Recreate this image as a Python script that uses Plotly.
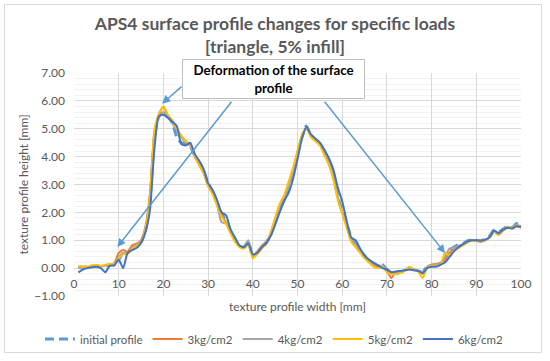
import plotly.graph_objects as go

x_mm = list(range(1, 101))

initial_profile = [0.02, 0.03, 0.04, 0.05, 0.08, 0.05, 0.08, 0.12, 0.12, 0.30,
                   0.55, 0.55, 0.72, 0.80, 0.95, 1.35, 2.40, 4.70, 5.45, 5.55,
                   5.45, 5.20, 4.70, 4.50, 4.45, 4.35, 4.05, 3.80, 3.50, 3.05,
                   2.75, 2.35, 1.95, 1.70, 1.35, 1.05, 0.80, 0.75, 0.95, 0.40,
                   0.55, 0.72, 0.90, 1.20, 1.70, 2.15, 2.45, 2.95, 3.45, 4.10,
                   4.70, 5.10, 4.75, 4.60, 4.45, 4.20, 3.85, 3.35, 2.60, 2.05,
                   1.60, 1.10, 0.85, 0.65, 0.45, 0.30, 0.15, 0.08, 0.12, -0.05,
                   -0.15, -0.18, -0.15, -0.10, 0.00, -0.05, -0.10, -0.15, 0.08, 0.10,
                   0.10, 0.15, 0.35, 0.65, 0.75, 0.85, 0.88, 0.98, 1.02, 1.00,
                   0.98, 1.05, 1.15, 1.38, 1.30, 1.40, 1.50, 1.45, 1.60, 1.52]

load_3kg = [0.05, 0.05, 0.04, 0.06, 0.10, 0.06, 0.10, 0.12, 0.18, 0.55,
            0.65, 0.58, 0.82, 0.88, 1.00, 1.50, 2.70, 4.90, 5.50, 5.80,
            5.45, 5.25, 5.00, 4.75, 4.55, 4.40, 4.00, 3.70, 3.40, 2.95,
            2.70, 2.30, 1.90, 1.65, 1.30, 1.00, 0.80, 0.72, 0.90, 0.42,
            0.60, 0.80, 0.95, 1.25, 1.75, 2.25, 2.55, 3.00, 3.50, 4.15,
            4.75, 5.05, 4.75, 4.60, 4.50, 4.10, 3.80, 3.30, 2.55, 2.00,
            1.50, 1.05, 0.80, 0.60, 0.40, 0.25, 0.10, 0.05, 0.05, -0.10,
            -0.35, -0.15, -0.12, -0.08, 0.02, -0.05, -0.10, -0.20, 0.05, 0.12,
            0.15, 0.20, 0.30, 0.55, 0.70, 0.78, 0.85, 0.95, 1.00, 0.98,
            0.95, 1.00, 1.10, 1.30, 1.20, 1.35, 1.45, 1.42, 1.50, 1.45]

load_4kg = [0.00, 0.03, 0.05, 0.05, 0.07, 0.06, 0.10, 0.10, 0.15, 0.40,
            0.55, 0.52, 0.75, 0.82, 0.95, 1.40, 2.50, 4.80, 5.45, 5.60,
            5.40, 5.20, 4.95, 4.70, 4.50, 4.40, 4.05, 3.75, 3.45, 3.00,
            2.70, 2.30, 1.65, 1.60, 1.30, 1.00, 0.78, 0.75, 1.00, 0.45,
            0.58, 0.75, 0.92, 1.22, 1.72, 2.20, 2.50, 2.95, 3.45, 4.05,
            4.70, 5.05, 4.75, 4.60, 4.45, 4.15, 3.80, 3.30, 2.55, 2.00,
            1.55, 1.05, 0.85, 0.62, 0.42, 0.30, 0.15, 0.10, 0.08, -0.05,
            -0.15, -0.15, -0.12, -0.08, 0.00, -0.05, -0.08, -0.15, 0.05, 0.10,
            0.12, 0.18, 0.40, 0.70, 0.72, 0.80, 0.85, 0.95, 1.00, 1.00,
            0.98, 1.02, 1.12, 1.32, 1.25, 1.38, 1.48, 1.45, 1.55, 1.50]

load_5kg = [0.08, 0.05, 0.05, 0.10, 0.12, 0.08, 0.12, 0.15, 0.15, 0.35,
            0.50, 0.50, 0.70, 0.78, 0.92, 1.40, 2.60, 4.95, 5.55, 5.80,
            5.50, 5.30, 5.00, 4.75, 4.55, 4.45, 4.05, 3.70, 3.40, 2.95,
            2.65, 2.25, 1.85, 1.60, 1.25, 0.95, 0.75, 0.70, 0.85, 0.35,
            0.50, 0.70, 0.88, 1.25, 1.80, 2.30, 2.60, 3.10, 3.60, 4.20,
            4.80, 5.00, 4.70, 4.55, 4.40, 4.05, 3.70, 3.20, 2.45, 1.95,
            1.45, 0.95, 0.75, 0.55, 0.35, 0.20, 0.05, 0.00, 0.05, -0.15,
            -0.20, -0.22, -0.18, -0.10, 0.05, -0.05, -0.12, -0.35, 0.00, 0.08,
            0.08, 0.12, 0.55, 0.45, 0.62, 0.72, 0.82, 0.92, 0.98, 0.98,
            0.96, 1.02, 1.10, 1.30, 1.22, 1.35, 1.48, 1.44, 1.52, 1.48]

load_6kg = [-0.15, -0.05, 0.00, 0.03, 0.05, 0.00, -0.15, 0.08, 0.10, 0.30,
            0.00, 0.55, 0.65, 0.72, 0.90, 1.30, 2.10, 4.30, 5.45, 5.50,
            5.40, 5.25, 5.10, 4.45, 4.40, 4.50, 4.10, 3.85, 3.55, 3.05,
            2.80, 2.45, 2.00, 1.90, 1.40, 1.10, 0.82, 0.75, 0.88, 0.50,
            0.55, 0.75, 0.90, 1.15, 1.55, 2.00, 2.40, 2.70, 3.20, 3.90,
            4.65, 5.05, 4.80, 4.65, 4.50, 4.25, 3.95, 3.55, 2.90, 2.40,
            1.70, 1.10, 1.00, 0.70, 0.45, 0.30, 0.20, 0.10, 0.00, -0.05,
            -0.15, -0.12, -0.10, -0.08, -0.05, -0.08, -0.10, -0.18, 0.00, 0.05,
            0.05, 0.12, 0.20, 0.40, 0.60, 0.75, 0.85, 0.95, 1.00, 1.00,
            0.98, 1.02, 1.12, 1.35, 1.25, 1.38, 1.45, 1.42, 1.50, 1.48]

series_names = ["initial profile", "3kg/cm2", "4kg/cm2", "5kg/cm2", "6kg/cm2"]
series_values = [initial_profile, load_3kg, load_4kg, load_5kg, load_6kg]
series_colors = ["#5B9BD5", "#ED7D31", "#A5A5A5", "#FFC000", "#4472C4"]

y_ticks = [-1, 0, 1, 2, 3, 4, 5, 6, 7]
x_ticks = [0, 10, 20, 30, 40, 50, 60, 70, 80, 90, 100]

# arrows: (start_x, start_y, end_x, end_y) in data units
arrows = [(24.4, 6.56, 19.7, 5.9),
          (35.5, 6.02, 9.7, 0.76),
          (55.8, 6.02, 83.0, 0.54)]

FONT = "Lato"
GRAY = "#595959"

fig = go.Figure()
for name, vals, col in zip(series_names, series_values, series_colors):
    if name == "initial profile":
        line = dict(color=col, width=3, dash="9px,5px", shape="spline", smoothing=0.6)
    else:
        line = dict(color=col, width=2, shape="spline", smoothing=0.6)
    fig.add_trace(go.Scatter(x=x_mm, y=vals, mode="lines", name=name, line=line))

W, H = 550, 361
L, R, T, B = 74, 29, 73, 65
pw, ph = W - L - R, H - T - B

def px_to_paper_x(px):
    return (px - L) / pw

def px_to_paper_y(py):
    return (H - B - py) / ph

annotations = []
for sx, sy, ex, ey in arrows:
    annotations.append(dict(x=ex, y=ey, ax=sx, ay=sy, xref="x", yref="y",
                            axref="x", ayref="y", text="", showarrow=True,
                            arrowhead=2, arrowsize=1.1, arrowwidth=1.5,
                            arrowcolor="#5B9BD5", standoff=0, startstandoff=0))

annotations.append(dict(x=44.6, y=6.79, xref="x", yref="y",
                        text="<b>Deformation of the surface<br>profile</b>",
                        showarrow=False, font=dict(family=FONT, size=13.3, color="#000000"),
                        bgcolor="#FFFFFF", bordercolor="#BFBFBF", borderwidth=1,
                        width=179, height=36, borderpad=1, align="center"))

annotations.append(dict(x=0.5, y=px_to_paper_y(306), xref="paper", yref="paper",
                        text="texture profile width [mm]", showarrow=False,
                        font=dict(family=FONT, size=12, color=GRAY),
                        xanchor="center", yanchor="middle"))

fig.update_layout(
    width=W, height=H,
    margin=dict(l=L, r=R, t=T, b=B, autoexpand=False),
    paper_bgcolor="#FFFFFF", plot_bgcolor="#FFFFFF",
    font=dict(family=FONT, size=12, color=GRAY),
    title=dict(text="<b>APS4 surface profile changes for specific loads<br>[triangle, 5% infill]</b>",
               x=0.5, xref="container", xanchor="center",
               y=1 - 30 / H, yref="container", yanchor="top",
               font=dict(family=FONT, size=17.5, color=GRAY)),
    xaxis=dict(range=[0, 100], tickvals=x_ticks, showgrid=True, gridcolor="#D9D9D9",
               gridwidth=1, zeroline=False, showline=False, ticks="",
               anchor="free", position=1 / 8, ticklabelstandoff=7,
               tickfont=dict(family=FONT, size=12, color=GRAY)),
    yaxis=dict(range=[-1, 7], tickvals=y_ticks, tickformat=".2f", showgrid=True,
               gridcolor="#D9D9D9", gridwidth=1, zeroline=False, showline=False,
               ticks="", ticklabelstandoff=8,
               minor=dict(dtick=0.2, showgrid=True, gridcolor="#F2F2F2", gridwidth=1),
               title=dict(text="texture profile height [mm]", standoff=3,
                          font=dict(family=FONT, size=12, color=GRAY)),
               tickfont=dict(family=FONT, size=12, color=GRAY)),
    legend=dict(orientation="h", x=px_to_paper_x(40), xref="paper", xanchor="left",
                y=px_to_paper_y(339), yref="paper", yanchor="middle",
                font=dict(family=FONT, size=11.5, color=GRAY), itemwidth=30,
                bgcolor="rgba(0,0,0,0)"),
    annotations=annotations,
    shapes=[dict(type="rect", xref="paper", yref="paper",
                 x0=px_to_paper_x(4.5), x1=px_to_paper_x(541.5),
                 y0=px_to_paper_y(352.5), y1=px_to_paper_y(4.5),
                 line=dict(color="#D9D9D9", width=1), fillcolor="rgba(0,0,0,0)",
                 layer="below")],
)

fig.write_html("out.html", config={"displayModeBar": False},
               post_script="document.body.style.margin='0';document.body.style.overflow='hidden';")
